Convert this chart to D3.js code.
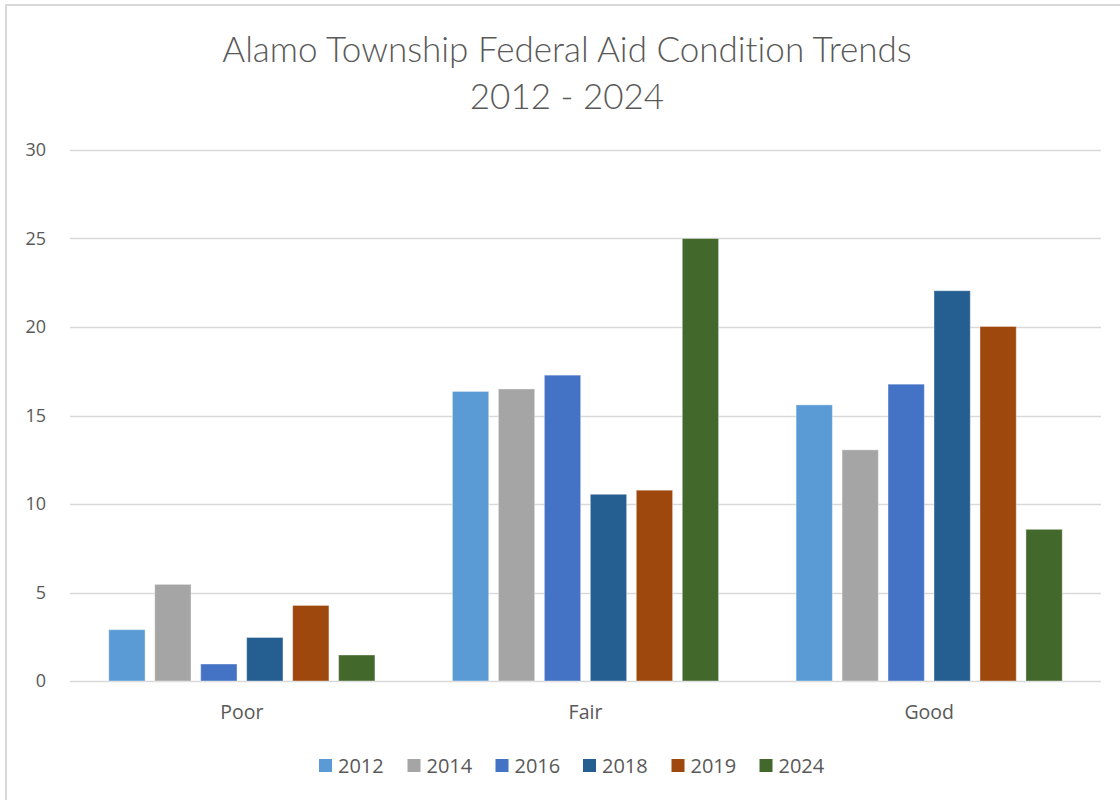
<!DOCTYPE html>
<meta charset="UTF-8">
<head>
<title>Alamo Township Federal Aid Condition Trends</title>
<style>
body { margin: 0; background: #fff; }
svg { display: block; }
.tick text { fill: #595959; font: 18px "Open Sans", Lato, sans-serif; }
.xaxis .tick text { font-size: 19.5px; }
.title { fill: #595959; font: 300 35px Lato, "Open Sans", sans-serif; font-variant-ligatures: none; }
.legend text { fill: #595959; font: 20px "Open Sans", Lato, sans-serif; }
</style>
</head>
<body>
<script src="https://d3js.org/d3.v7.min.js"></script>
<script>

var categories = ["Poor", "Fair", "Good"];
var years = ["2012", "2014", "2016", "2018", "2019", "2024"];
var colors = ["#5b9bd5", "#a5a5a5", "#4472c4", "#255e91", "#9e480e", "#43682b"];

// one array per year, in category order
var values = {
  "2012": [2.9, 16.36, 15.6],
  "2014": [5.46, 16.5, 13.06],
  "2016": [0.96, 17.28, 16.77],
  "2018": [2.46, 10.55, 22.05],
  "2019": [4.27, 10.78, 20.03],
  "2024": [1.47, 25.0, 8.57]
};
var yTicks = [0, 5, 10, 15, 20, 25, 30];

var width = 1120, height = 800;
var margin = {top: 150, right: 19, bottom: 119, left: 70};

var svg = d3.select("body").append("svg")
    .attr("width", width)
    .attr("height", height);

// chart frame (cropped on right and bottom in the original)
svg.append("path")
    .attr("d", "M6,800 V5 H1120")
    .attr("fill", "none")
    .attr("stroke", "#d9d9d9")
    .attr("stroke-width", 2);

svg.append("text").attr("class", "title")
    .attr("x", 567).attr("y", 62)
    .attr("text-anchor", "middle")
    .text("Alamo Township Federal Aid Condition Trends");
svg.append("text").attr("class", "title")
    .attr("x", 567).attr("y", 109)
    .attr("text-anchor", "middle")
    .text("2012 - 2024");

var x0 = d3.scaleBand()
    .domain(categories)
    .range([margin.left, width - margin.right]);

var inset = 38.75;
var x1 = d3.scaleBand()
    .domain(years)
    .range([inset, x0.bandwidth() - inset])
    .paddingInner(0.21)
    .paddingOuter(0);

var y = d3.scaleLinear()
    .domain([0, 30])
    .range([height - margin.bottom, margin.top]);

// gridlines
svg.append("g")
    .selectAll("line")
    .data(yTicks)
    .join("line")
    .attr("x1", margin.left)
    .attr("x2", width - margin.right)
    .attr("y1", d => Math.round(y(d)) + 0.5)
    .attr("y2", d => Math.round(y(d)) + 0.5)
    .attr("stroke", "#d9d9d9")
    .attr("stroke-width", 1.5);

// y axis labels
var yAxis = svg.append("g")
    .attr("transform", "translate(" + (margin.left - 24) + ",0)")
    .call(d3.axisLeft(y).tickValues(yTicks).tickSize(0).tickPadding(0));
yAxis.select(".domain").remove();

// x axis labels
var xAxis = svg.append("g")
    .attr("class", "xaxis")
    .attr("transform", "translate(0," + (height - margin.bottom) + ")")
    .call(d3.axisBottom(x0).tickSize(0).tickPadding(24));
xAxis.select(".domain").remove();

// bars
var groups = svg.append("g")
    .selectAll("g")
    .data(categories)
    .join("g")
    .attr("transform", d => "translate(" + x0(d) + ",0)");

groups.selectAll("rect")
    .data((c, i) => years.map((yr, j) => ({year: yr, value: values[yr][i], color: colors[j]})))
    .join("rect")
    .attr("x", d => x1(d.year))
    .attr("width", x1.bandwidth())
    .attr("y", d => y(d.value))
    .attr("height", d => y(0) - y(d.value))
    .attr("fill", d => d.color)
    .attr("stroke", "#fff")
    .attr("stroke-opacity", 0.4)
    .attr("stroke-width", 1);

// legend
var legendX = [319, 407.5, 495.5, 583, 671.5, 759.5];
var legend = svg.append("g").attr("class", "legend")
    .selectAll("g")
    .data(years)
    .join("g")
    .attr("transform", (d, i) => "translate(" + legendX[i] + ",759)");

legend.append("rect")
    .attr("width", 13).attr("height", 13)
    .attr("fill", (d, i) => colors[i]);
legend.append("text")
    .attr("x", 19).attr("y", 14)
    .text(d => d);

</script>
</body>
</html>
